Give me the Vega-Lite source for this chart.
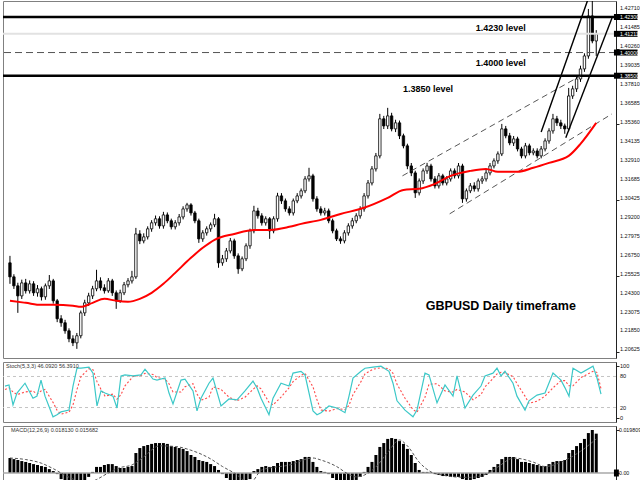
{
"$schema": "https://vega.github.io/schema/vega-lite/v6.json",
"padding": {"left": 1, "top": 0, "right": 0, "bottom": 0},
"background": "white",
"spacing": 2,
"config": {
  "view": {"stroke": "#808080", "strokeWidth": 1},
  "text": {"font": "Liberation Sans"},
  "axis": {"tickColor": "#222", "domainColor": "#222", "tickSize": 3, "grid": false, "labels": false}
},
"datasets": {
  "bars_ohlc": [
{"i":0,"o":1.2639,"h":1.2684,"l":1.2503,"c":1.2548},
{"i":1,"o":1.2548,"h":1.2565,"l":1.2470,"c":1.2490},
{"i":2,"o":1.2490,"h":1.2510,"l":1.2315,"c":1.2425},
{"i":3,"o":1.2425,"h":1.2530,"l":1.2405,"c":1.2509},
{"i":4,"o":1.2509,"h":1.2535,"l":1.2440,"c":1.2458},
{"i":5,"o":1.2458,"h":1.2525,"l":1.2440,"c":1.2503},
{"i":6,"o":1.2503,"h":1.2520,"l":1.2425,"c":1.2445},
{"i":7,"o":1.2445,"h":1.2495,"l":1.2420,"c":1.2471},
{"i":8,"o":1.2471,"h":1.2485,"l":1.2395,"c":1.2419},
{"i":9,"o":1.2419,"h":1.2505,"l":1.2400,"c":1.2490},
{"i":10,"o":1.2490,"h":1.2560,"l":1.2470,"c":1.2522},
{"i":11,"o":1.2522,"h":1.2535,"l":1.2375,"c":1.2393},
{"i":12,"o":1.2393,"h":1.2405,"l":1.2255,"c":1.2277},
{"i":13,"o":1.2277,"h":1.2300,"l":1.2225,"c":1.2251},
{"i":14,"o":1.2251,"h":1.2270,"l":1.2180,"c":1.2199},
{"i":15,"o":1.2199,"h":1.2215,"l":1.2125,"c":1.2147},
{"i":16,"o":1.2147,"h":1.2170,"l":1.2100,"c":1.2121},
{"i":17,"o":1.2121,"h":1.2185,"l":1.2082,"c":1.2167},
{"i":18,"o":1.2167,"h":1.2330,"l":1.2150,"c":1.2315},
{"i":19,"o":1.2315,"h":1.2400,"l":1.2295,"c":1.2380},
{"i":20,"o":1.2380,"h":1.2445,"l":1.2360,"c":1.2425},
{"i":21,"o":1.2425,"h":1.2490,"l":1.2405,"c":1.2471},
{"i":22,"o":1.2471,"h":1.2594,"l":1.2455,"c":1.2522},
{"i":23,"o":1.2522,"h":1.2545,"l":1.2460,"c":1.2477},
{"i":24,"o":1.2477,"h":1.2500,"l":1.2440,"c":1.2458},
{"i":25,"o":1.2458,"h":1.2540,"l":1.2445,"c":1.2522},
{"i":26,"o":1.2522,"h":1.2535,"l":1.2425,"c":1.2445},
{"i":27,"o":1.2445,"h":1.2460,"l":1.2341,"c":1.2393},
{"i":28,"o":1.2393,"h":1.2465,"l":1.2380,"c":1.2445},
{"i":29,"o":1.2445,"h":1.2515,"l":1.2430,"c":1.2497},
{"i":30,"o":1.2497,"h":1.2540,"l":1.2480,"c":1.2522},
{"i":31,"o":1.2522,"h":1.2587,"l":1.2505,"c":1.2548},
{"i":32,"o":1.2548,"h":1.2865,"l":1.2535,"c":1.2826},
{"i":33,"o":1.2826,"h":1.2850,"l":1.2760,"c":1.2781},
{"i":34,"o":1.2781,"h":1.2830,"l":1.2765,"c":1.2807},
{"i":35,"o":1.2807,"h":1.2875,"l":1.2790,"c":1.2859},
{"i":36,"o":1.2859,"h":1.2915,"l":1.2840,"c":1.2898},
{"i":37,"o":1.2898,"h":1.2945,"l":1.2880,"c":1.2924},
{"i":38,"o":1.2924,"h":1.2940,"l":1.2860,"c":1.2878},
{"i":39,"o":1.2878,"h":1.2969,"l":1.2860,"c":1.2949},
{"i":40,"o":1.2949,"h":1.2965,"l":1.2895,"c":1.2911},
{"i":41,"o":1.2911,"h":1.2925,"l":1.2855,"c":1.2872},
{"i":42,"o":1.2872,"h":1.2915,"l":1.2855,"c":1.2898},
{"i":43,"o":1.2898,"h":1.2955,"l":1.2880,"c":1.2936},
{"i":44,"o":1.2936,"h":1.3005,"l":1.2920,"c":1.2988},
{"i":45,"o":1.2988,"h":1.3027,"l":1.2970,"c":1.3014},
{"i":46,"o":1.3014,"h":1.3025,"l":1.2945,"c":1.2962},
{"i":47,"o":1.2962,"h":1.2975,"l":1.2895,"c":1.2911},
{"i":48,"o":1.2911,"h":1.2925,"l":1.2768,"c":1.2794},
{"i":49,"o":1.2794,"h":1.2850,"l":1.2775,"c":1.2833},
{"i":50,"o":1.2833,"h":1.2875,"l":1.2815,"c":1.2859},
{"i":51,"o":1.2859,"h":1.2900,"l":1.2840,"c":1.2885},
{"i":52,"o":1.2885,"h":1.2956,"l":1.2870,"c":1.2924},
{"i":53,"o":1.2924,"h":1.2935,"l":1.2607,"c":1.2639},
{"i":54,"o":1.2639,"h":1.2690,"l":1.2620,"c":1.2665},
{"i":55,"o":1.2665,"h":1.2735,"l":1.2645,"c":1.2716},
{"i":56,"o":1.2716,"h":1.2800,"l":1.2700,"c":1.2781},
{"i":57,"o":1.2781,"h":1.2795,"l":1.2665,"c":1.2684},
{"i":58,"o":1.2684,"h":1.2700,"l":1.2568,"c":1.2600},
{"i":59,"o":1.2600,"h":1.2680,"l":1.2585,"c":1.2665},
{"i":60,"o":1.2665,"h":1.2765,"l":1.2650,"c":1.2749},
{"i":61,"o":1.2749,"h":1.2860,"l":1.2730,"c":1.2846},
{"i":62,"o":1.2846,"h":1.3008,"l":1.2830,"c":1.2975},
{"i":63,"o":1.2975,"h":1.2995,"l":1.2925,"c":1.2943},
{"i":64,"o":1.2943,"h":1.2960,"l":1.2880,"c":1.2898},
{"i":65,"o":1.2898,"h":1.2940,"l":1.2880,"c":1.2924},
{"i":66,"o":1.2924,"h":1.2935,"l":1.2794,"c":1.2846},
{"i":67,"o":1.2846,"h":1.2940,"l":1.2830,"c":1.2924},
{"i":68,"o":1.2924,"h":1.3092,"l":1.2905,"c":1.3072},
{"i":69,"o":1.3072,"h":1.3090,"l":1.3020,"c":1.3040},
{"i":70,"o":1.3040,"h":1.3055,"l":1.2970,"c":1.2988},
{"i":71,"o":1.2988,"h":1.3005,"l":1.2945,"c":1.2962},
{"i":72,"o":1.2962,"h":1.3055,"l":1.2945,"c":1.3040},
{"i":73,"o":1.3040,"h":1.3090,"l":1.3025,"c":1.3072},
{"i":74,"o":1.3072,"h":1.3120,"l":1.3055,"c":1.3105},
{"i":75,"o":1.3105,"h":1.3200,"l":1.3090,"c":1.3182},
{"i":76,"o":1.3182,"h":1.3254,"l":1.3165,"c":1.3202},
{"i":77,"o":1.3202,"h":1.3215,"l":1.3035,"c":1.3053},
{"i":78,"o":1.3053,"h":1.3070,"l":1.2970,"c":1.2988},
{"i":79,"o":1.2988,"h":1.3005,"l":1.2945,"c":1.2962},
{"i":80,"o":1.2962,"h":1.2995,"l":1.2945,"c":1.2975},
{"i":81,"o":1.2975,"h":1.2990,"l":1.2895,"c":1.2911},
{"i":82,"o":1.2911,"h":1.2925,"l":1.2830,"c":1.2846},
{"i":83,"o":1.2846,"h":1.2860,"l":1.2780,"c":1.2794},
{"i":84,"o":1.2794,"h":1.2810,"l":1.2762,"c":1.2781},
{"i":85,"o":1.2781,"h":1.2850,"l":1.2765,"c":1.2833},
{"i":86,"o":1.2833,"h":1.2895,"l":1.2815,"c":1.2878},
{"i":87,"o":1.2878,"h":1.2930,"l":1.2860,"c":1.2911},
{"i":88,"o":1.2911,"h":1.2960,"l":1.2895,"c":1.2943},
{"i":89,"o":1.2943,"h":1.3005,"l":1.2925,"c":1.2988},
{"i":90,"o":1.2988,"h":1.3090,"l":1.2970,"c":1.3072},
{"i":91,"o":1.3072,"h":1.3175,"l":1.3055,"c":1.3156},
{"i":92,"o":1.3156,"h":1.3265,"l":1.3140,"c":1.3247},
{"i":93,"o":1.3247,"h":1.3350,"l":1.3230,"c":1.3331},
{"i":94,"o":1.3331,"h":1.3603,"l":1.3315,"c":1.3571},
{"i":95,"o":1.3571,"h":1.3590,"l":1.3505,"c":1.3525},
{"i":96,"o":1.3525,"h":1.3642,"l":1.3505,"c":1.3590},
{"i":97,"o":1.3590,"h":1.3610,"l":1.3490,"c":1.3506},
{"i":98,"o":1.3506,"h":1.3565,"l":1.3485,"c":1.3545},
{"i":99,"o":1.3545,"h":1.3560,"l":1.3440,"c":1.3461},
{"i":100,"o":1.3461,"h":1.3475,"l":1.3380,"c":1.3396},
{"i":101,"o":1.3396,"h":1.3410,"l":1.3245,"c":1.3266},
{"i":102,"o":1.3266,"h":1.3285,"l":1.3200,"c":1.3221},
{"i":103,"o":1.3221,"h":1.3235,"l":1.3059,"c":1.3092},
{"i":104,"o":1.3092,"h":1.3185,"l":1.3075,"c":1.3169},
{"i":105,"o":1.3169,"h":1.3250,"l":1.3150,"c":1.3234},
{"i":106,"o":1.3234,"h":1.3286,"l":1.3215,"c":1.3266},
{"i":107,"o":1.3266,"h":1.3280,"l":1.3165,"c":1.3182},
{"i":108,"o":1.3182,"h":1.3200,"l":1.3120,"c":1.3137},
{"i":109,"o":1.3137,"h":1.3220,"l":1.3120,"c":1.3202},
{"i":110,"o":1.3202,"h":1.3215,"l":1.3140,"c":1.3156},
{"i":111,"o":1.3156,"h":1.3200,"l":1.3140,"c":1.3182},
{"i":112,"o":1.3182,"h":1.3250,"l":1.3165,"c":1.3234},
{"i":113,"o":1.3234,"h":1.3250,"l":1.3185,"c":1.3202},
{"i":114,"o":1.3202,"h":1.3285,"l":1.3185,"c":1.3266},
{"i":115,"o":1.3266,"h":1.3280,"l":1.3027,"c":1.3053},
{"i":116,"o":1.3053,"h":1.3120,"l":1.3035,"c":1.3105},
{"i":117,"o":1.3105,"h":1.3155,"l":1.3090,"c":1.3137},
{"i":118,"o":1.3137,"h":1.3160,"l":1.3100,"c":1.3118},
{"i":119,"o":1.3118,"h":1.3185,"l":1.3100,"c":1.3169},
{"i":120,"o":1.3169,"h":1.3200,"l":1.3150,"c":1.3182},
{"i":121,"o":1.3182,"h":1.3240,"l":1.3165,"c":1.3221},
{"i":122,"o":1.3221,"h":1.3285,"l":1.3205,"c":1.3266},
{"i":123,"o":1.3266,"h":1.3315,"l":1.3250,"c":1.3299},
{"i":124,"o":1.3299,"h":1.3360,"l":1.3280,"c":1.3344},
{"i":125,"o":1.3344,"h":1.3538,"l":1.3330,"c":1.3506},
{"i":126,"o":1.3506,"h":1.3525,"l":1.3445,"c":1.3461},
{"i":127,"o":1.3461,"h":1.3480,"l":1.3400,"c":1.3415},
{"i":128,"o":1.3415,"h":1.3460,"l":1.3395,"c":1.3441},
{"i":129,"o":1.3441,"h":1.3455,"l":1.3360,"c":1.3376},
{"i":130,"o":1.3376,"h":1.3390,"l":1.3315,"c":1.3331},
{"i":131,"o":1.3331,"h":1.3415,"l":1.3315,"c":1.3396},
{"i":132,"o":1.3396,"h":1.3410,"l":1.3335,"c":1.3351},
{"i":133,"o":1.3351,"h":1.3380,"l":1.3335,"c":1.3363},
{"i":134,"o":1.3363,"h":1.3380,"l":1.3315,"c":1.3331},
{"i":135,"o":1.3331,"h":1.3395,"l":1.3315,"c":1.3376},
{"i":136,"o":1.3376,"h":1.3445,"l":1.3360,"c":1.3428},
{"i":137,"o":1.3428,"h":1.3510,"l":1.3410,"c":1.3493},
{"i":138,"o":1.3493,"h":1.3603,"l":1.3475,"c":1.3571},
{"i":139,"o":1.3571,"h":1.3590,"l":1.3525,"c":1.3545},
{"i":140,"o":1.3545,"h":1.3565,"l":1.3505,"c":1.3525},
{"i":141,"o":1.3525,"h":1.3540,"l":1.3474,"c":1.3506},
{"i":142,"o":1.3506,"h":1.3771,"l":1.3490,"c":1.3719},
{"i":143,"o":1.3719,"h":1.3785,"l":1.3700,"c":1.3765},
{"i":144,"o":1.3765,"h":1.3850,"l":1.3745,"c":1.3829},
{"i":145,"o":1.3829,"h":1.3915,"l":1.3810,"c":1.3894},
{"i":146,"o":1.3894,"h":1.3995,"l":1.3875,"c":1.3978},
{"i":147,"o":1.3978,"h":1.4282,"l":1.3960,"c":1.4237},
{"i":148,"o":1.4237,"h":1.4345,"l":1.4060,"c":1.4075},
{"i":149,"o":1.4075,"h":1.4145,"l":1.3978,"c":1.4121}
  ],
  "ma_line": [
{"i":0,"v":1.2393},{"i":4,"v":1.2380},{"i":8,"v":1.2367},{"i":11,"v":1.2367},{"i":16,"v":1.2361},{"i":18,"v":1.2354},{"i":21,"v":1.2380},{"i":24,"v":1.2406},{"i":27,"v":1.2393},{"i":30,"v":1.2387},{"i":33,"v":1.2406},{"i":36,"v":1.2445},{"i":39,"v":1.2503},{"i":42,"v":1.2574},{"i":46,"v":1.2671},{"i":49,"v":1.2736},{"i":52,"v":1.2788},{"i":57,"v":1.2826},{"i":62,"v":1.2852},{"i":66,"v":1.2852},{"i":71,"v":1.2872},{"i":74,"v":1.2891},{"i":79,"v":1.2917},{"i":84,"v":1.2955},{"i":90,"v":1.2995},{"i":96,"v":1.3059},{"i":100,"v":1.3111},{"i":104,"v":1.3118},{"i":108,"v":1.3150},{"i":112,"v":1.3202},{"i":117,"v":1.3234},{"i":121,"v":1.3247},{"i":124,"v":1.3228},{"i":129,"v":1.3228},{"i":133,"v":1.3254},{"i":137,"v":1.3286},{"i":142,"v":1.3331},{"i":145,"v":1.3409},{"i":149,"v":1.3545}
  ],
  "channel_lines": [
{"a":99.75,"pa":1.3202,"b":145,"pb":1.3849},
{"a":111.75,"pa":1.2956,"b":153,"pb":1.3603}
  ],
  "steep_lines": [
{"a":135,"pa":1.3486,"b":146.75,"pb":1.4334},
{"a":141.25,"pa":1.3448,"b":153,"pb":1.4224}
  ],
  "price_ticks": [
{"p":1.4271},{"p":1.41485},{"p":1.4026},{"p":1.39035},{"p":1.3781},{"p":1.36585},{"p":1.3536},{"p":1.34135},{"p":1.3291},{"p":1.31685},{"p":1.30425},{"p":1.292},{"p":1.27975},{"p":1.2675},{"p":1.25525},{"p":1.243},{"p":1.23075},{"p":1.2185},{"p":1.20625}
  ],
  "stoch_vals": [
{"i":0,"k":61.5,"d":55},{"i":1,"k":63.5,"d":58},{"i":2,"k":25,"d":50},{"i":3,"k":48,"d":45},{"i":5,"k":67,"d":50},{"i":7,"k":38,"d":52},{"i":8,"k":42,"d":46},{"i":9,"k":73,"d":52},{"i":10,"k":42,"d":55},{"i":12,"k":2,"d":30},{"i":13,"k":6,"d":15},{"i":14,"k":11.5,"d":7},{"i":16,"k":15,"d":11},{"i":17,"k":61.5,"d":25},{"i":18,"k":96,"d":55},{"i":19,"k":96,"d":80},{"i":21,"k":98,"d":95},{"i":22,"k":86.5,"d":93},{"i":23,"k":23,"d":70},{"i":24,"k":52,"d":55},{"i":25,"k":48,"d":42},{"i":27,"k":42,"d":46},{"i":28,"k":19,"d":36},{"i":29,"k":81,"d":45},{"i":30,"k":83,"d":62},{"i":32,"k":81,"d":80},{"i":34,"k":83,"d":82},{"i":35,"k":94,"d":86},{"i":37,"k":75,"d":84},{"i":38,"k":73,"d":78},{"i":40,"k":77,"d":75},{"i":41,"k":48,"d":66},{"i":42,"k":27,"d":50},{"i":44,"k":73,"d":50},{"i":45,"k":75,"d":60},{"i":47,"k":52,"d":66},{"i":48,"k":13.5,"d":46},{"i":49,"k":38,"d":34},{"i":51,"k":67,"d":40},{"i":52,"k":77,"d":60},{"i":54,"k":23,"d":55},{"i":56,"k":36.5,"d":40},{"i":58,"k":34.6,"d":33},{"i":60,"k":52,"d":40},{"i":62,"k":71,"d":55},{"i":63,"k":58,"d":62},{"i":64,"k":38,"d":56},{"i":66,"k":6,"d":30},{"i":67,"k":38,"d":25},{"i":69,"k":67,"d":40},{"i":71,"k":61.5,"d":58},{"i":72,"k":86.5,"d":70},{"i":74,"k":90,"d":82},{"i":75,"k":83,"d":86},{"i":77,"k":13.5,"d":60},{"i":78,"k":6,"d":35},{"i":79,"k":10,"d":15},{"i":81,"k":23,"d":13},{"i":83,"k":19,"d":18},{"i":85,"k":10,"d":16},{"i":86,"k":42,"d":24},{"i":87,"k":77,"d":45},{"i":89,"k":90,"d":70},{"i":90,"k":96,"d":85},{"i":92,"k":98,"d":94},{"i":94,"k":100,"d":97},{"i":96,"k":90,"d":95},{"i":97,"k":67,"d":86},{"i":98,"k":33,"d":65},{"i":100,"k":15,"d":38},{"i":102,"k":2,"d":16},{"i":103,"k":15,"d":11},{"i":105,"k":86.5,"d":40},{"i":106,"k":83,"d":65},{"i":108,"k":29,"d":66},{"i":110,"k":63.5,"d":52},{"i":112,"k":42,"d":50},{"i":113,"k":81,"d":55},{"i":115,"k":19,"d":50},{"i":117,"k":44,"d":35},{"i":119,"k":61.5,"d":45},{"i":120,"k":81,"d":60},{"i":122,"k":86.5,"d":76},{"i":123,"k":96,"d":85},{"i":124,"k":81,"d":88},{"i":125,"k":90,"d":87},{"i":127,"k":67,"d":80},{"i":128,"k":42,"d":66},{"i":130,"k":15,"d":42},{"i":131,"k":33,"d":28},{"i":133,"k":44,"d":32},{"i":135,"k":48,"d":42},{"i":137,"k":86.5,"d":58},{"i":139,"k":73,"d":72},{"i":140,"k":58,"d":72},{"i":141,"k":42,"d":62},{"i":142,"k":96,"d":62},{"i":144,"k":86.5,"d":78},{"i":147,"k":100,"d":90},{"i":148,"k":77,"d":88},{"i":149,"k":46.092,"d":56.391}
  ],
  "macd_hist": [
{"i":0,"m":0.0069},{"i":1,"m":0.0064},{"i":2,"m":0.0060},{"i":3,"m":0.0055},{"i":4,"m":0.0051},{"i":5,"m":0.0046},{"i":6,"m":0.0041},{"i":7,"m":0.0037},{"i":8,"m":0.0032},{"i":9,"m":0.0028},{"i":10,"m":0.0018},{"i":11,"m":0.0009},{"i":12,"m":-0.0005},{"i":13,"m":-0.0028},{"i":14,"m":-0.0046},{"i":15,"m":-0.0060},{"i":16,"m":-0.0069},{"i":17,"m":-0.0069},{"i":18,"m":-0.0060},{"i":19,"m":-0.0041},{"i":20,"m":-0.0018},{"i":21,"m":0.0005},{"i":22,"m":0.0028},{"i":23,"m":0.0028},{"i":24,"m":0.0037},{"i":25,"m":0.0041},{"i":26,"m":0.0041},{"i":27,"m":0.0032},{"i":28,"m":0.0023},{"i":29,"m":0.0023},{"i":30,"m":0.0028},{"i":31,"m":0.0032},{"i":32,"m":0.0092},{"i":33,"m":0.0115},{"i":34,"m":0.0124},{"i":35,"m":0.0129},{"i":36,"m":0.0134},{"i":37,"m":0.0138},{"i":38,"m":0.0138},{"i":39,"m":0.0138},{"i":40,"m":0.0134},{"i":41,"m":0.0124},{"i":42,"m":0.0120},{"i":43,"m":0.0115},{"i":44,"m":0.0111},{"i":45,"m":0.0101},{"i":46,"m":0.0083},{"i":47,"m":0.0074},{"i":48,"m":0.0060},{"i":49,"m":0.0055},{"i":50,"m":0.0051},{"i":51,"m":0.0041},{"i":52,"m":0.0032},{"i":53,"m":0.0014},{"i":54,"m":-0.0005},{"i":55,"m":-0.0023},{"i":56,"m":-0.0041},{"i":57,"m":-0.0055},{"i":58,"m":-0.0064},{"i":59,"m":-0.0064},{"i":60,"m":-0.0051},{"i":61,"m":-0.0028},{"i":62,"m":0.0009},{"i":63,"m":0.0018},{"i":64,"m":0.0028},{"i":65,"m":0.0032},{"i":66,"m":0.0028},{"i":67,"m":0.0032},{"i":68,"m":0.0046},{"i":69,"m":0.0051},{"i":70,"m":0.0051},{"i":71,"m":0.0051},{"i":72,"m":0.0055},{"i":73,"m":0.0060},{"i":74,"m":0.0064},{"i":75,"m":0.0074},{"i":76,"m":0.0074},{"i":77,"m":0.0051},{"i":78,"m":0.0028},{"i":79,"m":0.0009},{"i":80,"m":0.0005},{"i":81,"m":-0.0005},{"i":82,"m":-0.0023},{"i":83,"m":-0.0041},{"i":84,"m":-0.0055},{"i":85,"m":-0.0055},{"i":86,"m":-0.0051},{"i":87,"m":-0.0041},{"i":88,"m":-0.0032},{"i":89,"m":-0.0018},{"i":90,"m":0.0005},{"i":91,"m":0.0028},{"i":92,"m":0.0051},{"i":93,"m":0.0083},{"i":94,"m":0.0120},{"i":95,"m":0.0138},{"i":96,"m":0.0157},{"i":97,"m":0.0161},{"i":98,"m":0.0157},{"i":99,"m":0.0147},{"i":100,"m":0.0134},{"i":101,"m":0.0111},{"i":102,"m":0.0083},{"i":103,"m":0.0046},{"i":104,"m":0.0014},{"i":105,"m":0.0005},{"i":106,"m":0.0005},{"i":107,"m":0.0002},{"i":108,"m":-0.0005},{"i":109,"m":-0.0009},{"i":110,"m":-0.0014},{"i":111,"m":-0.0014},{"i":112,"m":-0.0018},{"i":113,"m":-0.0018},{"i":114,"m":-0.0018},{"i":115,"m":-0.0028},{"i":116,"m":-0.0032},{"i":117,"m":-0.0032},{"i":118,"m":-0.0028},{"i":119,"m":-0.0023},{"i":120,"m":-0.0018},{"i":121,"m":-0.0009},{"i":122,"m":0.0014},{"i":123,"m":0.0028},{"i":124,"m":0.0041},{"i":125,"m":0.0064},{"i":126,"m":0.0074},{"i":127,"m":0.0074},{"i":128,"m":0.0074},{"i":129,"m":0.0064},{"i":130,"m":0.0051},{"i":131,"m":0.0051},{"i":132,"m":0.0046},{"i":133,"m":0.0041},{"i":134,"m":0.0037},{"i":135,"m":0.0032},{"i":136,"m":0.0032},{"i":137,"m":0.0041},{"i":138,"m":0.0051},{"i":139,"m":0.0055},{"i":140,"m":0.0055},{"i":141,"m":0.0060},{"i":142,"m":0.0092},{"i":143,"m":0.0106},{"i":144,"m":0.0124},{"i":145,"m":0.0138},{"i":146,"m":0.0157},{"i":147,"m":0.0184},{"i":148,"m":0.019809},{"i":149,"m":0.01813}
  ],
  "macd_sig": [
{"i":0,"s":0.0069},{"i":4,"s":0.0062},{"i":8,"s":0.0045},{"i":11,"s":0.0020},{"i":14,"s":-0.0010},{"i":17,"s":-0.0035},{"i":20,"s":-0.0045},{"i":22,"s":-0.0030},{"i":25,"s":0.0000},{"i":28,"s":0.0025},{"i":31,"s":0.0037},{"i":34,"s":0.0075},{"i":38,"s":0.0125},{"i":42,"s":0.0122},{"i":46,"s":0.0105},{"i":51,"s":0.0065},{"i":54,"s":0.0030},{"i":57,"s":0.0000},{"i":61,"s":-0.0046},{"i":64,"s":0.0014},{"i":71,"s":0.0037},{"i":77,"s":0.0069},{"i":79,"s":0.0060},{"i":83,"s":0.0030},{"i":86,"s":-0.0005},{"i":88,"s":-0.0018},{"i":90,"s":-0.0010},{"i":93,"s":0.0028},{"i":96,"s":0.0095},{"i":99,"s":0.0152},{"i":101,"s":0.0125},{"i":104,"s":0.0050},{"i":107,"s":0.0005},{"i":110,"s":-0.0010},{"i":113,"s":-0.0018},{"i":117,"s":-0.0020},{"i":121,"s":-0.0005},{"i":124,"s":0.0028},{"i":128,"s":0.0069},{"i":133,"s":0.0050},{"i":136,"s":0.0030},{"i":141,"s":0.0058},{"i":145,"s":0.0100},{"i":149,"s":0.015682}
  ]
},
"vconcat": [
  {
    "width": 613, "height": 357,
    "layer": [
      {"data": {"name": "bars_ohlc"}, "mark": {"type": "rule", "color": "#000000", "strokeWidth": 1, "clip": true},
       "encoding": {
         "x": {"field": "i", "type": "quantitative", "scale": {"domain": [-0.5, 152.75], "nice": false, "zero": false}, "axis": null},
         "y": {"field": "l", "type": "quantitative", "scale": {"domain": [1.20229, 1.43336], "nice": false, "zero": false},
           "axis": {"orient": "right", "title": null, "values": [1.4271, 1.41485, 1.4026, 1.39035, 1.3781, 1.36585, 1.3536, 1.34135, 1.3291, 1.31685, 1.30425, 1.292, 1.27975, 1.2675, 1.25525, 1.243, 1.23075, 1.2185, 1.20625], "labels": false}},
         "y2": {"field": "h"}}},
      {"data": {"name": "bars_ohlc"}, "mark": {"type": "bar", "size": 2.4, "stroke": "#000000", "strokeWidth": 0.8, "clip": true},
       "encoding": {"x": {"field": "i", "type": "quantitative"}, "y": {"field": "o", "type": "quantitative"}, "y2": {"field": "c"},
         "fill": {"condition": {"test": "datum.c >= datum.o", "value": "#ffffff"}, "value": "#000000"}}},
      {"data": {"values": [{"p": 1.41211}]}, "mark": {"type": "rule", "color": "#e2e2e2", "strokeWidth": 2}, "encoding": {"y": {"field": "p", "type": "quantitative"}}},
      {"data": {"values": [{"p": 1.4}]}, "mark": {"type": "rule", "color": "#555555", "strokeWidth": 1, "strokeDash": [7, 4]}, "encoding": {"y": {"field": "p", "type": "quantitative"}}},
      {"data": {"values": [{"p": 1.423}, {"p": 1.385}]}, "mark": {"type": "rule", "color": "#000000", "strokeWidth": 2.5}, "encoding": {"y": {"field": "p", "type": "quantitative"}}},
      {"data": {"name": "channel_lines"}, "mark": {"type": "rule", "color": "#444444", "strokeWidth": 0.9, "strokeDash": [6, 4], "clip": true},
       "encoding": {"x": {"field": "a", "type": "quantitative"}, "x2": {"field": "b"}, "y": {"field": "pa", "type": "quantitative"}, "y2": {"field": "pb"}}},
      {"data": {"name": "steep_lines"}, "mark": {"type": "rule", "color": "#000000", "strokeWidth": 1.4, "clip": true},
       "encoding": {"x": {"field": "a", "type": "quantitative"}, "x2": {"field": "b"}, "y": {"field": "pa", "type": "quantitative"}, "y2": {"field": "pb"}}},
      {"data": {"name": "ma_line"}, "mark": {"type": "line", "color": "#ff0000", "strokeWidth": 2, "interpolate": "monotone", "clip": true},
       "encoding": {"x": {"field": "i", "type": "quantitative"}, "y": {"field": "v", "type": "quantitative"}}},
      {"data": {"values": [{"a": 124.75, "p": 1.4159, "t": "1.4230 level"}, {"a": 124.75, "p": 1.3933, "t": "1.4000 level"}, {"a": 106.25, "p": 1.3765, "t": "1.3850 level"}]},
       "mark": {"type": "text", "fontWeight": "bold", "fontSize": 9, "align": "center", "baseline": "middle", "color": "#000000"},
       "encoding": {"x": {"field": "a", "type": "quantitative"}, "y": {"field": "p", "type": "quantitative"}, "text": {"field": "t"}}},
      {"data": {"values": [{"a": 124.75, "p": 1.2361, "t": "GBPUSD Daily timeframe"}]},
       "mark": {"type": "text", "fontWeight": "bold", "fontSize": 12.5, "align": "center", "baseline": "middle", "color": "#000000"},
       "encoding": {"x": {"field": "a", "type": "quantitative"}, "y": {"field": "p", "type": "quantitative"}, "text": {"field": "t"}}},
      {"data": {"name": "price_ticks"}, "mark": {"type": "text", "color": "#111111", "fontSize": 5.5, "align": "left", "baseline": "middle", "dx": 4, "dy": -2.5, "clip": false},
       "encoding": {"x": {"value": "width"}, "y": {"field": "p", "type": "quantitative"}, "text": {"field": "p", "type": "quantitative", "format": ".5f"}}},
      {"data": {"values": [{"a": 153.5, "b": 159.5, "p1": 1.42494, "p2": 1.42106}, {"a": 153.5, "b": 159.5, "p1": 1.41405, "p2": 1.41017}, {"a": 153.5, "b": 159.5, "p1": 1.40194, "p2": 1.39806}, {"a": 153.5, "b": 159.5, "p1": 1.38694, "p2": 1.38306}]},
       "mark": {"type": "rect", "color": "#000000", "clip": false},
       "encoding": {"x": {"field": "a", "type": "quantitative"}, "x2": {"field": "b"}, "y": {"field": "p1", "type": "quantitative"}, "y2": {"field": "p2"}}},
      {"data": {"values": [{"p": 1.423, "t": "1.42300"}, {"p": 1.41211, "t": "1.41211"}, {"p": 1.4, "t": "1.40000"}, {"p": 1.385, "t": "1.38500"}]},
       "mark": {"type": "text", "color": "#ffffff", "fontSize": 5.3, "align": "left", "baseline": "middle", "dx": 4, "clip": false},
       "encoding": {"x": {"value": "width"}, "y": {"field": "p", "type": "quantitative"}, "text": {"field": "t"}}}
    ]
  },
  {
    "width": 613, "height": 60,
    "layer": [
      {"data": {"values": [{"p": 80}, {"p": 20}]}, "mark": {"type": "rule", "color": "#c4c4c4", "strokeWidth": 1, "strokeDash": [3, 3]},
       "encoding": {"y": {"field": "p", "type": "quantitative", "scale": {"domain": [-8, 108], "nice": false, "zero": false},
         "axis": {"orient": "right", "title": null, "values": [0, 20, 80, 100], "labels": false}}}},
      {"data": {"name": "stoch_vals"}, "mark": {"type": "line", "color": "#ff4a4a", "strokeWidth": 1.1, "strokeDash": [2, 2]},
       "encoding": {"x": {"field": "i", "type": "quantitative", "scale": {"domain": [-0.5, 152.75], "nice": false, "zero": false}, "axis": null}, "y": {"field": "d", "type": "quantitative"}}},
      {"data": {"name": "stoch_vals"}, "mark": {"type": "line", "color": "#3cc8c8", "strokeWidth": 1.2},
       "encoding": {"x": {"field": "i", "type": "quantitative"}, "y": {"field": "k", "type": "quantitative"}}},
      {"data": {"values": [{"a": 0.25, "p": 105, "t": "Stoch(5,3,3) 46.0920 56.3910"}]}, "mark": {"type": "text", "fontSize": 5.5, "align": "left", "baseline": "top", "color": "#333333"},
       "encoding": {"x": {"field": "a", "type": "quantitative"}, "y": {"field": "p", "type": "quantitative"}, "text": {"field": "t"}}},
      {"data": {"values": [{"p": 100}, {"p": 80}, {"p": 20}, {"p": 0}]}, "mark": {"type": "text", "color": "#111111", "fontSize": 5.6, "align": "left", "baseline": "middle", "dx": 4, "clip": false},
       "encoding": {"x": {"value": "width"}, "y": {"field": "p", "type": "quantitative"}, "text": {"field": "p", "type": "quantitative", "format": "d"}}}
    ]
  },
  {
    "width": 613, "height": 58,
    "layer": [
      {"data": {"name": "macd_hist"}, "mark": {"type": "bar", "color": "#000000", "size": 3, "clip": true},
       "encoding": {
         "x": {"field": "i", "type": "quantitative", "scale": {"domain": [-0.5, 152.75], "nice": false, "zero": false}, "axis": null},
         "y": {"field": "m", "type": "quantitative", "scale": {"domain": [-0.005067, 0.021652], "nice": false},
           "axis": {"orient": "right", "title": null, "values": [0, 0.019809], "labels": false}}}},
      {"data": {"values": [{"p": 0}]}, "mark": {"type": "rule", "color": "#a8a8a8", "strokeWidth": 1.5}, "encoding": {"y": {"field": "p", "type": "quantitative"}}},
      {"data": {"name": "macd_sig"}, "mark": {"type": "line", "color": "#555555", "strokeWidth": 1, "strokeDash": [3, 2], "clip": true, "interpolate": "monotone"},
       "encoding": {"x": {"field": "i", "type": "quantitative"}, "y": {"field": "s", "type": "quantitative"}}},
      {"data": {"values": [{"a": 0.25, "p": 0.02073, "t": "MACD(12,26,9) 0.018130 0.015682"}]}, "mark": {"type": "text", "fontSize": 5.5, "align": "left", "baseline": "top", "color": "#333333"},
       "encoding": {"x": {"field": "a", "type": "quantitative"}, "y": {"field": "p", "type": "quantitative"}, "text": {"field": "t"}}},
      {"data": {"values": [{"a": 153.5, "b": 154.75, "p1": 0.00161, "p2": -0.00161}]}, "mark": {"type": "rect", "color": "#000000", "clip": false},
       "encoding": {"x": {"field": "a", "type": "quantitative"}, "x2": {"field": "b"}, "y": {"field": "p1", "type": "quantitative"}, "y2": {"field": "p2"}}},
      {"data": {"values": [{"p": 0.019809, "t": "0.019809"}, {"p": 0, "t": "0.00"}]}, "mark": {"type": "text", "color": "#111111", "fontSize": 5.3, "align": "left", "baseline": "middle", "dx": 3, "clip": false},
       "encoding": {"x": {"value": "width"}, "y": {"field": "p", "type": "quantitative"}, "text": {"field": "t"}}}
    ]
  }
]
}
